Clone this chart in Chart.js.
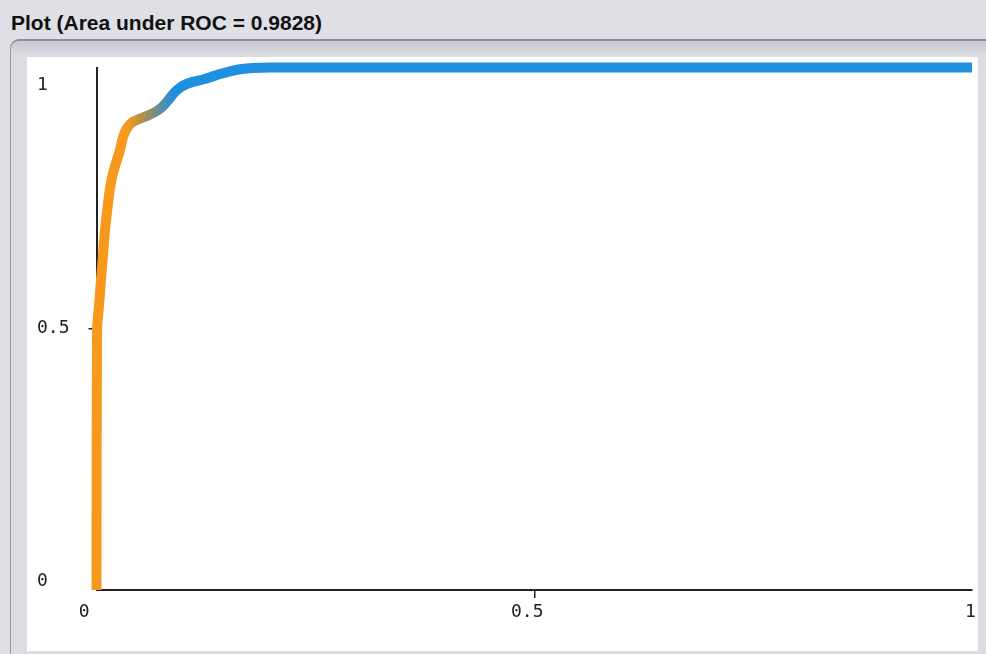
<!DOCTYPE html>
<html>
<head>
<meta charset="utf-8">
<script src="https://cdn.jsdelivr.net/npm/chart.js@4.4.0/dist/chart.umd.min.js"></script>
<style>
    body { margin: 0; width: 986px; height: 654px; overflow: hidden; position: relative; background: #dfe0e6; }
    #title { position: absolute; left: 11px; top: 11px; line-height: 24px; font: bold 21px "Liberation Sans", Arial, sans-serif; color: #111; white-space: nowrap; }
    #panel { position: absolute; left: 10px; top: 39px; width: 990px; height: 630px; background: linear-gradient(#c8c9d1, #dcdde3 16px); border-top: 2px solid #8f9097; border-left: 1px solid #9c9da4; border-top-left-radius: 9px; }
    #plot { position: absolute; left: 27px; top: 57px; width: 951px; height: 594px; background: #fff; }
    #roc { position: absolute; left: 27px; top: 57px; }
</style>
</head>
<body>
<div id="title">Plot (Area under ROC = 0.9828)</div>
<div id="panel"></div>
<div id="plot"></div>
<canvas id="roc" width="959" height="597"></canvas>
<script>
// ROC curve points (false positive rate / true positive rate)
const fpr = [0, 0.0006, 0.0029, 0.0051, 0.0074, 0.0097, 0.012, 0.0148, 0.0177, 0.0211, 0.0268, 0.0303, 0.0348, 0.0406, 0.0497, 0.0588, 0.0691, 0.076, 0.0817, 0.0863, 0.092, 0.0988, 0.109, 0.1194, 0.1308, 0.1422, 0.1536, 0.1656, 0.1788, 0.1982, 0.4, 0.7, 1];
const tpr = [0, 0.498, 0.545, 0.593, 0.641, 0.689, 0.723, 0.762, 0.789, 0.811, 0.842, 0.867, 0.884, 0.895, 0.902, 0.908, 0.917, 0.926, 0.937, 0.947, 0.957, 0.965, 0.972, 0.976, 0.982, 0.988, 0.993, 0.997, 0.999, 1, 1, 1, 1];

const xTickValues = [0, 0.5, 1];
const xTickLabels = ['0', '0.5', '1'];
const yTickValues = [0, 0.5, 1];
const yTickLabels = ['0', '0.5', '1'];

const orange = '#f7991c';
const blue = '#1f8fe0';
const axisFont = { family: '"DejaVu Sans Mono", monospace', size: 18, lineHeight: 1 };

// colour runs from orange to blue along the curve (as in the threshold colouring)
function curveColor(ctx) {
    const chart = ctx.chart;
    if (!chart.chartArea) return blue;
    const x0 = chart.scales.x.getPixelForValue(0.035);
    const x1 = chart.scales.x.getPixelForValue(0.088);
    const g = chart.ctx.createLinearGradient(x0, 0, x1, 0);
    g.addColorStop(0, orange);
    g.addColorStop(0.5, '#8f8d66');
    g.addColorStop(1, blue);
    return g;
}

function onlyHalfTick(ctx) {
    return ctx.tick && ctx.tick.value === 0.5 ? '#222' : 'rgba(0,0,0,0)';
}

let rocChart = new Chart(document.getElementById('roc').getContext('2d'), {
    type: 'line',
    data: {
        datasets: [{
            data: fpr.map((x, i) => ({ x: x, y: tpr[i] })),
            borderColor: curveColor,
            borderWidth: 10,
            borderCapStyle: 'butt',
            borderJoinStyle: 'round',
            pointRadius: 0,
            tension: 0.2,
            fill: false,
            clip: false
        }]
    },
    options: {
        responsive: false,
        animation: false,
        layout: { padding: { left: 10, top: 10.5, right: 14, bottom: 24 } },
        plugins: { legend: { display: false }, tooltip: { enabled: false } },
        scales: {
            x: {
                type: 'linear', min: 0, max: 1,
                afterBuildTicks: s => { s.ticks = xTickValues.map(v => ({ value: v })); },
                afterFit: s => { s.height = 40; s.paddingLeft = 0; s.paddingRight = 0; },
                border: { display: true, color: '#222', width: 2 },
                grid: { drawOnChartArea: false, tickLength: 8, color: onlyHalfTick, lineWidth: 1.5 },
                ticks: {
                    font: axisFont, color: '#222', padding: 5, maxRotation: 0, labelOffset: -7,
                    callback: (v, i) => {
                        let t = xTickLabels[xTickValues.indexOf(v)];
                        if (i === 0) return t + ' ';
                        if (i === xTickValues.length - 1) return ' ' + t;
                        return t;
                    }
                }
            },
            y: {
                type: 'linear', min: 0, max: 1,
                afterBuildTicks: s => { s.ticks = yTickValues.map(v => ({ value: v })); },
                afterFit: s => { s.width = 59.5; s.paddingTop = 0; s.paddingBottom = 0; },
                border: { display: true, color: '#222', width: 2 },
                grid: { drawOnChartArea: false, tickLength: 8, color: onlyHalfTick, lineWidth: 1.5 },
                ticks: {
                    font: axisFont, color: '#222', crossAlign: 'far',
                    callback: (v, i) => {
                        let t = yTickLabels[yTickValues.indexOf(v)];
                        if (i === 0) return [t, ''];           // sits a bit above the x axis
                        if (i === yTickValues.length - 1) return ['', '', t]; // sits below the top
                        return t;
                    }
                }
            }
        }
    }
});
</script>
</body>
</html>
